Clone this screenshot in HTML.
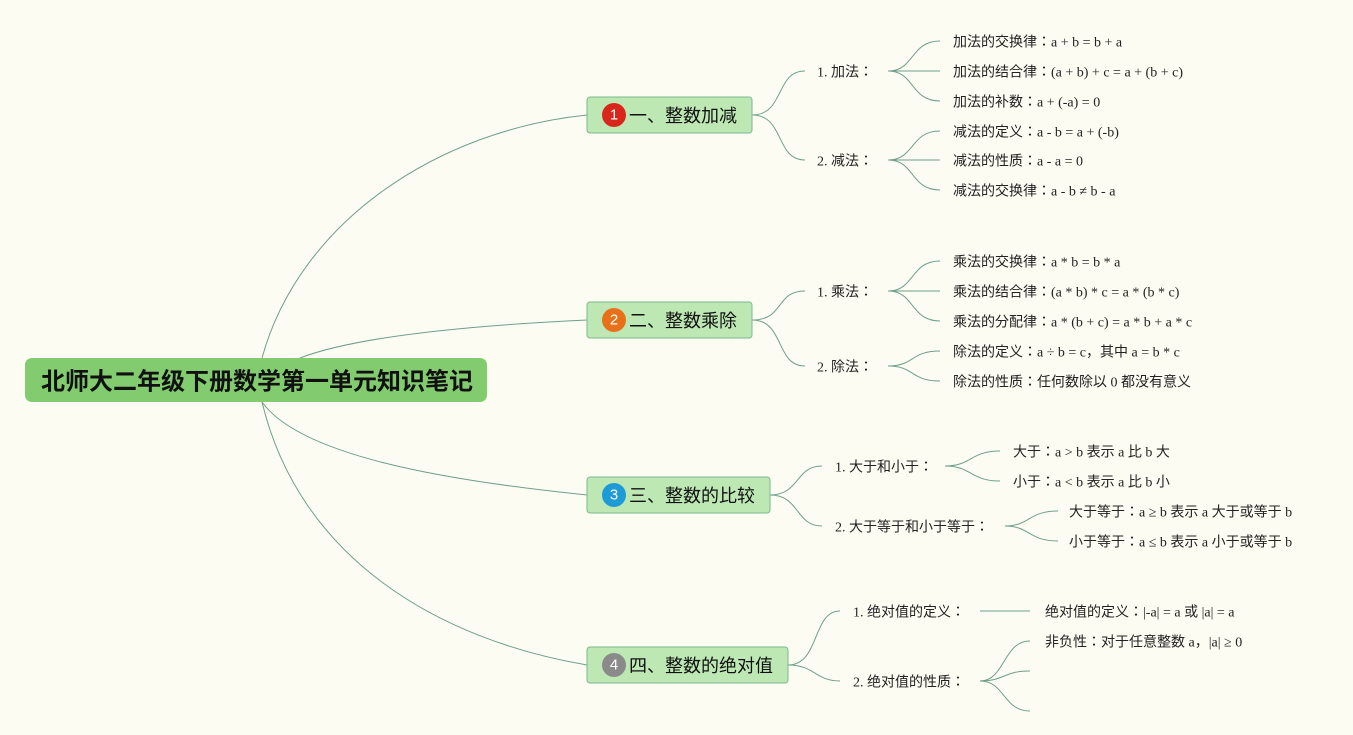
<!DOCTYPE html>
<html><head><meta charset="utf-8"><style>
html,body{margin:0;padding:0;background:#fdfcf3;}
svg{display:block}
text{font-family:"Liberation Serif","Noto Sans CJK JP",serif;font-size:14px;fill:#222;dominant-baseline:central}
.b{font-family:"Liberation Sans","Noto Sans CJK JP",sans-serif;font-size:18px;fill:#111}
.r{font-family:"Liberation Sans","Noto Sans CJK SC",sans-serif;font-size:24px;font-weight:bold;fill:#111}
.n{font-family:"Liberation Sans",sans-serif;font-size:15px;fill:#fff;text-anchor:middle}
path{fill:none;stroke:#6f9f8c;stroke-width:1}
</style></head><body>
<svg width="1353" height="735" viewBox="0 0 1353 735">
<path d="M262,358 C300,220 440,130 587,115"/>
<path d="M300,358 C360,335 480,325 587,320"/>
<path d="M262,402 C300,455 440,480 587,495"/>
<path d="M262,402 C300,560 440,640 587,665"/>
<rect x="25" y="358" width="462" height="44" rx="7" fill="#82cc6f"/>
<text class="r" x="41" y="382">北师大二年级下册数学第一单元知识笔记</text>
<g transform="translate(0,2)">
<text x="817" y="71">1. 加法：</text><text x="817" y="160">2. 减法：</text>
<text x="953" y="41">加法的交换律：a + b = b + a</text>
<text x="953" y="71">加法的结合律：(a + b) + c = a + (b + c)</text>
<text x="953" y="101">加法的补数：a + (-a) = 0</text>
<text x="953" y="131">减法的定义：a - b = a + (-b)</text>
<text x="953" y="160">减法的性质：a - a = 0</text>
<text x="953" y="190">减法的交换律：a - b ≠ b - a</text>
<text x="817" y="291">1. 乘法：</text><text x="817" y="366">2. 除法：</text>
<text x="953" y="261">乘法的交换律：a * b = b * a</text>
<text x="953" y="291">乘法的结合律：(a * b) * c = a * (b * c)</text>
<text x="953" y="321">乘法的分配律：a * (b + c) = a * b + a * c</text>
<text x="953" y="351">除法的定义：a ÷ b = c，其中 a = b * c</text>
<text x="953" y="381">除法的性质：任何数除以 0 都没有意义</text>
<text x="835" y="466">1. 大于和小于：</text><text x="835" y="526">2. 大于等于和小于等于：</text>
<text x="1013" y="451">大于：a &gt; b 表示 a 比 b 大</text>
<text x="1013" y="481">小于：a &lt; b 表示 a 比 b 小</text>
<text x="1069" y="511">大于等于：a ≥ b 表示 a 大于或等于 b</text>
<text x="1069" y="541">小于等于：a ≤ b 表示 a 小于或等于 b</text>
<text x="853" y="611">1. 绝对值的定义：</text><text x="853" y="681">2. 绝对值的性质：</text>
<text x="1045" y="611">绝对值的定义：|-a| = a 或 |a| = a</text>
<text x="1045" y="641">非负性：对于任意整数 a，|a| ≥ 0</text>
</g>

<path d="M752,115 C785,115 775,71 805,71"/>
<path d="M752,115 C785,115 775,160 805,160"/>
<path d="M888,71 C915,71 910,41 940,41"/><path d="M888,71 L940,71"/><path d="M888,71 C915,71 910,101 940,101"/>
<path d="M888,160 C915,160 910,131 940,131"/><path d="M888,160 L940,160"/><path d="M888,160 C915,160 910,190 940,190"/>
<rect x="587" y="97" width="165" height="36" rx="3" fill="#bde8b4" stroke="#7cb98f"/>
<circle cx="614" cy="115" r="12" fill="#d9261c"/><text class="n" x="614" y="115">1</text>
<text class="b" x="629" y="116">一、整数加减</text>

<path d="M752,320 C785,320 775,291 805,291"/>
<path d="M752,320 C785,320 775,366 805,366"/>
<path d="M888,291 C915,291 910,261 940,261"/><path d="M888,291 L940,291"/><path d="M888,291 C915,291 910,321 940,321"/>
<path d="M888,366 C915,366 910,351 940,351"/><path d="M888,366 C915,366 910,381 940,381"/>
<rect x="587" y="302" width="165" height="36" rx="3" fill="#bde8b4" stroke="#7cb98f"/>
<circle cx="614" cy="320" r="12" fill="#e8701a"/><text class="n" x="614" y="320">2</text>
<text class="b" x="629" y="321">二、整数乘除</text>

<path d="M770,495 C800,495 795,466 822,466"/>
<path d="M770,495 C800,495 795,526 822,526"/>
<path d="M945,466 C972,466 970,451 1000,451"/><path d="M945,466 C972,466 970,481 1000,481"/>
<path d="M1005,526 C1030,526 1028,511 1058,511"/><path d="M1005,526 C1030,526 1028,541 1058,541"/>
<rect x="587" y="477" width="183" height="36" rx="3" fill="#bde8b4" stroke="#7cb98f"/>
<circle cx="614" cy="495" r="12" fill="#1e9ad6"/><text class="n" x="614" y="495">3</text>
<text class="b" x="629" y="496">三、整数的比较</text>

<path d="M788,665 C820,665 812,611 840,611"/>
<path d="M788,665 C815,665 815,681 840,681"/>
<path d="M980,611 L1030,611"/>
<path d="M980,681 C1005,681 1003,641 1030,641"/><path d="M980,681 C1005,681 1003,671 1030,671"/><path d="M980,681 C1005,681 1003,711 1030,711"/>
<rect x="587" y="647" width="201" height="36" rx="3" fill="#bde8b4" stroke="#7cb98f"/>
<circle cx="614" cy="665" r="12" fill="#8a8a8a"/><text class="n" x="614" y="665">4</text>
<text class="b" x="629" y="666">四、整数的绝对值</text>
</svg>
</body></html>
